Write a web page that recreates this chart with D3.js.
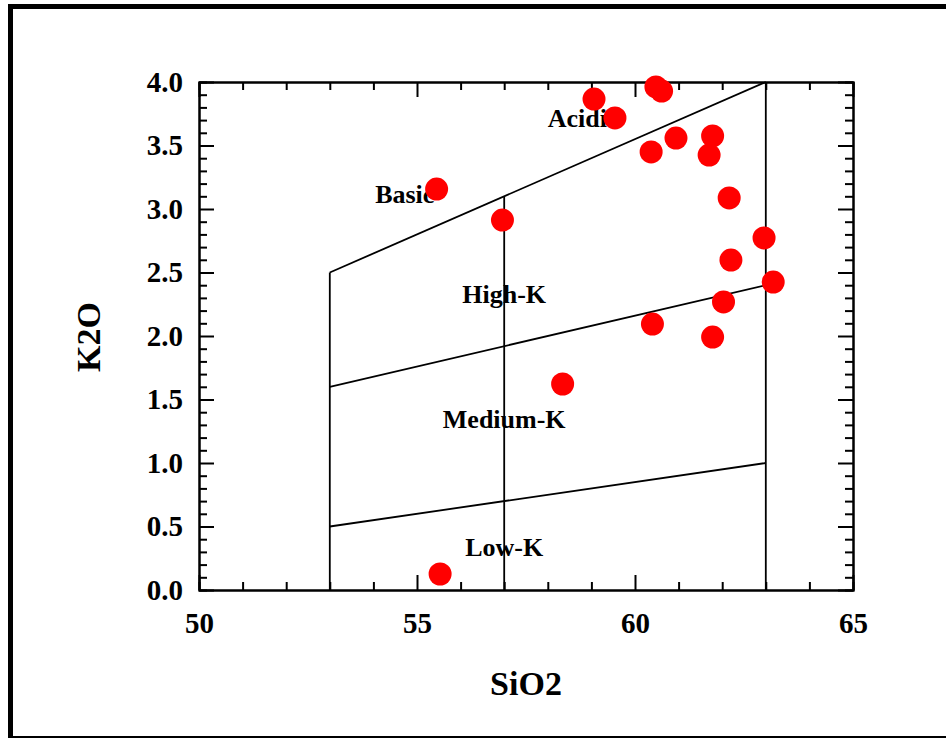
<!DOCTYPE html>
<html>
<head>
<meta charset="utf-8">
<script src="https://cdn.jsdelivr.net/npm/d3@7"></script>
<style>
  body { margin: 0; background: #fff; }
  svg { display: block; font-family: "Liberation Serif", "Times New Roman", serif; font-weight: bold; }
  .axis path { stroke: #000; stroke-width: 2; }
  .axis line { stroke: #000; stroke-width: 2; }
  .axis text { font-family: "Liberation Serif", serif; font-weight: bold; font-size: 29px; fill: #000; }
</style>
</head>
<body>
<div id="chart"></div>
<script>
// sample values
var sio2 = [59.06, 59.54, 60.48, 60.61, 60.37, 60.94, 61.78, 61.70, 62.16, 62.96,
            62.20, 63.17, 62.03, 60.40, 61.78, 58.34, 56.96, 55.45, 55.53];
var k2o  = [3.866, 3.717, 3.961, 3.929, 3.449, 3.559, 3.575, 3.425, 3.087, 2.772,
            2.598, 2.425, 2.268, 2.094, 1.992, 1.622, 2.913, 3.157, 0.126];

// field boundaries [x1, y1, x2, y2]
var boundaries = [
  [53, 0, 53, 2.5],
  [53, 2.5, 63, 4.0],
  [63, 0, 63, 4.0],
  [53, 1.6, 63, 2.4],
  [53, 0.5, 63, 1.0],
  [57, 0, 57, 3.1]
];

var fieldNames = ["Acidic", "Basic", "High-K", "Medium-K", "Low-K"];
var fieldX = [58.0, 54.04, 57, 57, 57];
var fieldY = [3.646, 3.047, 2.262, 1.273, 0.268];
var fieldAnchor = ["start", "start", "middle", "middle", "middle"];

var xMajor = [50, 55, 60, 65];
var yMajor = [0, 0.5, 1, 1.5, 2, 2.5, 3, 3.5, 4];

const width = 946, height = 738;
const margin = {left: 199, right: 93, top: 82, bottom: 148};
const innerWidth = width - margin.left - margin.right;
const innerHeight = height - margin.top - margin.bottom;

var svg = d3.select("#chart").append("svg")
    .attr("width", width)
    .attr("height", height);

// outer frame
svg.append("rect").attr("x", 8).attr("y", 4).attr("width", width - 8).attr("height", 5).attr("fill", "#000");
svg.append("rect").attr("x", 8).attr("y", 4).attr("width", 5).attr("height", 733).attr("fill", "#000");
svg.append("rect").attr("x", 8).attr("y", 736).attr("width", width - 8).attr("height", 2).attr("fill", "#000");

var g = svg.append("g").attr("transform", `translate(${margin.left},${margin.top})`);

var x = d3.scaleLinear().domain([50, 65]).range([0, innerWidth]);
var y = d3.scaleLinear().domain([0, 4]).range([innerHeight, 0]);

var xMinor = d3.range(50, 66, 1).filter(d => d % 5 !== 0);
var yMinor = d3.range(0, 41, 1).map(d => d / 10).filter((d, i) => i % 5 !== 0);

// minor ticks
g.append("g").attr("class", "axis").attr("transform", `translate(0,${innerHeight})`)
  .call(d3.axisBottom(x).tickValues(xMinor).tickSize(-8).tickFormat(""));
g.append("g").attr("class", "axis")
  .call(d3.axisTop(x).tickValues(xMinor).tickSize(-8).tickFormat(""));
g.append("g").attr("class", "axis")
  .call(d3.axisLeft(y).tickValues(yMinor).tickSize(-8).tickFormat(""));
g.append("g").attr("class", "axis").attr("transform", `translate(${innerWidth},0)`)
  .call(d3.axisRight(y).tickValues(yMinor).tickSize(-8).tickFormat(""));

// major ticks
g.append("g").attr("class", "axis").attr("transform", `translate(0,${innerHeight})`)
  .call(d3.axisBottom(x).tickValues(xMajor).tickSizeInner(-15).tickSizeOuter(0).tickPadding(22).tickFormat(d3.format("d")));
g.append("g").attr("class", "axis")
  .call(d3.axisTop(x).tickValues(xMajor).tickSizeInner(-15).tickSizeOuter(0).tickFormat(""));
g.append("g").attr("class", "axis")
  .call(d3.axisLeft(y).tickValues(yMajor).tickSizeInner(-15).tickSizeOuter(0).tickPadding(16).tickFormat(d3.format(".1f")));
g.append("g").attr("class", "axis").attr("transform", `translate(${innerWidth},0)`)
  .call(d3.axisRight(y).tickValues(yMajor).tickSizeInner(-15).tickSizeOuter(0).tickFormat(""));

// field boundaries
g.selectAll(".boundary").data(boundaries).enter().append("line")
  .attr("class", "boundary")
  .attr("x1", d => x(d[0])).attr("y1", d => y(d[1]))
  .attr("x2", d => x(d[2])).attr("y2", d => y(d[3]))
  .attr("stroke", "#000").attr("stroke-width", 1.8);

// field labels
g.selectAll(".field").data(fieldNames).enter().append("text")
  .attr("class", "field")
  .attr("x", (d, i) => x(fieldX[i]))
  .attr("y", (d, i) => y(fieldY[i]))
  .attr("text-anchor", (d, i) => fieldAnchor[i])
  .attr("font-size", 26)
  .attr("fill", "#000")
  .text(d => d);

// samples
g.selectAll(".dot").data(sio2).enter().append("circle")
  .attr("class", "dot")
  .attr("cx", d => x(d))
  .attr("cy", (d, i) => y(k2o[i]))
  .attr("r", 11.5)
  .attr("fill", "#ff0000");

// axis titles
svg.append("text")
  .attr("x", margin.left + innerWidth / 2)
  .attr("y", 695)
  .attr("text-anchor", "middle")
  .attr("font-size", 34)
  .text("SiO2");

svg.append("text")
  .attr("transform", `translate(100,337) rotate(-90)`)
  .attr("text-anchor", "middle")
  .attr("font-size", 34)
  .text("K2O");
</script>
</body>
</html>
